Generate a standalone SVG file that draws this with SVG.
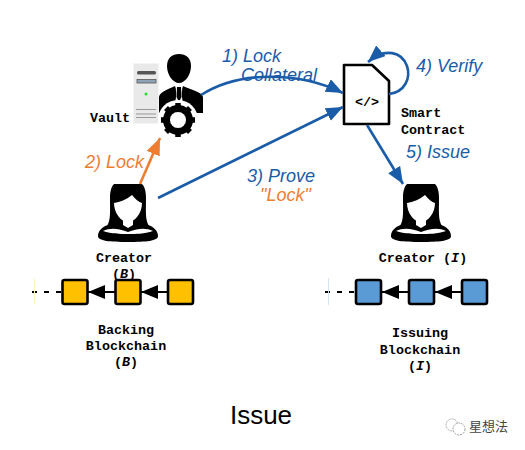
<svg xmlns="http://www.w3.org/2000/svg" width="525" height="450" viewBox="0 0 525 450">
<style>
.m{font-family:"Liberation Mono",monospace;font-size:13.4px;font-weight:bold;fill:#000;text-anchor:middle}
.mi{font-style:italic}
.l{font-family:"Liberation Sans",sans-serif;font-size:18px;font-style:italic}
.b{fill:#1a5ca8}
.o{fill:#ed7d31}
.c{fill:none;stroke-width:2.6}
.bl{stroke:#1a5ca8}
.or{stroke:#ed7d31}
.sq{stroke:#000;stroke-width:2.6}
.y{fill:#ffc000}
.s{fill:#5b9bd5}
.ch{stroke:#000;stroke-width:2;fill:none}
</style>
<defs>
<marker id="ab" markerUnits="userSpaceOnUse" markerWidth="20" markerHeight="16" refX="17" refY="7" orient="auto"><path d="M0 0L17 7L0 14Z" fill="#1a5ca8"/></marker>
<marker id="ao" markerUnits="userSpaceOnUse" markerWidth="20" markerHeight="16" refX="17" refY="7" orient="auto"><path d="M0 0L17 7L0 14Z" fill="#ed7d31"/></marker>
<marker id="ak" markerUnits="userSpaceOnUse" markerWidth="20" markerHeight="16" refX="17" refY="7" orient="auto"><path d="M0 0L17 7L0 14Z" fill="#000"/></marker>
<g id="woman">
<path d="M-14 0H14C17 3 18 8 18 14C18 26 17 36 21 42L8 46H-8L-21 42C-17 36-18 26-18 14C-18 8-17 3-14 0Z" fill="#000"/>
<path d="M-14 19C-8 18-2 16 4 11C7 15 11 18 14 19C14 29 7 38 0 38C-7 38-14 29-14 19Z" fill="#fff"/>
<path d="M-5 35H5V41L0 44L-5 41Z" fill="#fff"/>
<path d="M-30 52C-30 47-26 43-20 41C-12 46 12 46 20 41C26 43 30 47 30 52C30 57 18 58 0 58C-18 58-30 57-30 52Z" fill="#000"/>
<path d="M-26 47C-18 42-10 43 -1 47V51H-19C-23 50-25 49-26 47ZM26 47C18 42 10 43 1 47V51H19C23 50 25 49 26 47Z" fill="#000"/>
<path d="M-25 47C-17 43-8 45 0 48C8 45 17 43 25 47C16 50 8 50 0 50C-8 50-16 50-25 47Z" fill="#fff"/>
</g>
</defs>

<g id="vault">
<rect x="133.500" y="63.500" width="25" height="60" fill="#e9e9e9" stroke="#f4f4f4"/>
<rect x="137" y="71" width="19" height="3.500" rx="1.500" fill="#555"/>
<rect x="137" y="79.500" width="19" height="3.500" fill="#8ea3b5" stroke="#555" stroke-width="0.800"/>
<circle cx="146" cy="94" r="1.500" fill="#1ee02c"/>
<path d="M136 109.500H156M136 114H156M136 117.500H156" stroke="#999" stroke-width="1"/>
<path d="M167 66C167 58 172 54 179 54C186 54 191 58 191 66C191 75 185 83 179 83C173 83 167 75 167 66Z" fill="#000"/>
<path d="M159 113V97C160 92 166 90 175 86L177 90L175 104H183L181 90L183 86C192 90 202 92 203 97V113Z" fill="#000"/>
<path d="M175.500 86H182.500L181.500 96L179 103L176.500 96Z" fill="#fff"/>
<path d="M177 87H181L181.500 97L179 102L176.500 97Z" fill="#000"/>
<circle cx="178" cy="120" r="20" fill="#fff"/>
<circle cx="178" cy="120" r="11.500" fill="none" stroke="#000" stroke-width="7"/>
<path d="M178 103V137M161 120H195M166 108L190 132M190 108L166 132" stroke="#000" stroke-width="5.500"/>
<circle cx="178" cy="120" r="8" fill="#fff"/>
<text class="m" x="110" y="122">Vault</text>
</g>

<g id="smart-contract">
<path d="M344 65H372L389 81V124H344Z" fill="#fff" stroke="#000" stroke-width="2.600" stroke-linejoin="round"/>
<text class="m" x="367" y="106">&lt;/&gt;</text>
<text class="m" x="401" y="117" style="text-anchor:start">Smart</text>
<text class="m" x="401" y="134" style="text-anchor:start">Contract</text>
</g>

<g id="creator-b">
<use href="#woman" x="128" y="184"/>
<text class="m" x="124" y="262">Creator</text>
<text class="m" x="124" y="278">(<tspan class="mi">B</tspan>)</text>
</g>

<g id="creator-i">
<use href="#woman" x="421" y="184"/>
<text class="m" x="423" y="262">Creator (<tspan class="mi">I</tspan>)</text>
</g>

<g id="backing-chain">
<rect class="sq y" x="62.500" y="280" width="25" height="24" rx="2"/>
<rect class="sq y" x="115.500" y="280" width="25" height="24" rx="2"/>
<rect class="sq y" x="168" y="280" width="25" height="24" rx="2"/>
<text class="m" x="126" y="334">Backing</text>
<text class="m" x="126" y="350">Blockchain</text>
<text class="m" x="126" y="366">(<tspan class="mi">B</tspan>)</text>
</g>

<g id="issuing-chain">
<rect class="sq s" x="356" y="280" width="25" height="24" rx="2"/>
<rect class="sq s" x="409" y="280" width="25" height="24" rx="2"/>
<rect class="sq s" x="462" y="280" width="25" height="24" rx="2"/>
<text class="m" x="420" y="337">Issuing</text>
<text class="m" x="420" y="354">Blockchain</text>
<text class="m" x="420" y="370">(<tspan class="mi">I</tspan>)</text>
</g>

<g id="connectors">
<path class="c bl" d="M201 95C240 70 300 72 343 93" marker-end="url(#ab)"/>
<path class="c bl" d="M158 198L343 107" marker-end="url(#ab)"/>
<path class="c or" d="M140 184L160 138" marker-end="url(#ao)"/>
<path class="c bl" d="M389 94C405 92 411 78 407 66C402 52 385 47 368 62" marker-end="url(#ab)"/>
<path class="c bl" d="M367 125L403 184" marker-end="url(#ab)"/>
<path class="ch" d="M168 292H141" marker-end="url(#ak)"/>
<path class="ch" d="M115 292H88" marker-end="url(#ak)"/>
<path class="ch" d="M32 292H62" stroke-dasharray="5 7"/>
<path class="ch" d="M462 292H435" marker-end="url(#ak)"/>
<path class="ch" d="M409 292H382" marker-end="url(#ak)"/>
<path class="ch" d="M325 292H356" stroke-dasharray="5 7"/>
<path d="M34.500 278V305" stroke="#fff3c4" stroke-width="1"/>
<path d="M328.500 278V305" stroke="#d6e4f2" stroke-width="1"/>
</g>

<g id="labels">
<text class="l b" x="222" y="62">1) Lock</text>
<text class="l b" x="241" y="81">Collateral</text>
<text class="l o" x="85" y="168">2) Lock</text>
<text class="l b" x="247" y="182">3) Prove</text>
<text class="l o" x="260" y="201">"Lock"</text>
<text class="l b" x="416" y="72">4) Verify</text>
<text class="l b" x="406" y="158">5) Issue</text>
</g>

<text x="261" y="424" font-family="Liberation Sans, sans-serif" font-size="26" text-anchor="middle" fill="#000">Issue</text>

<g id="watermark">
<circle cx="452" cy="425" r="6" fill="none" stroke="#aaa" stroke-width="1" stroke-dasharray="2 1"/>
<circle cx="459" cy="429" r="6" fill="#fff" stroke="#999" stroke-width="1" stroke-dasharray="2 1"/>
<text x="469" y="431" font-family="'Noto Sans CJK SC',sans-serif" font-size="13" fill="#444">星想法</text>
</g>
</svg>
